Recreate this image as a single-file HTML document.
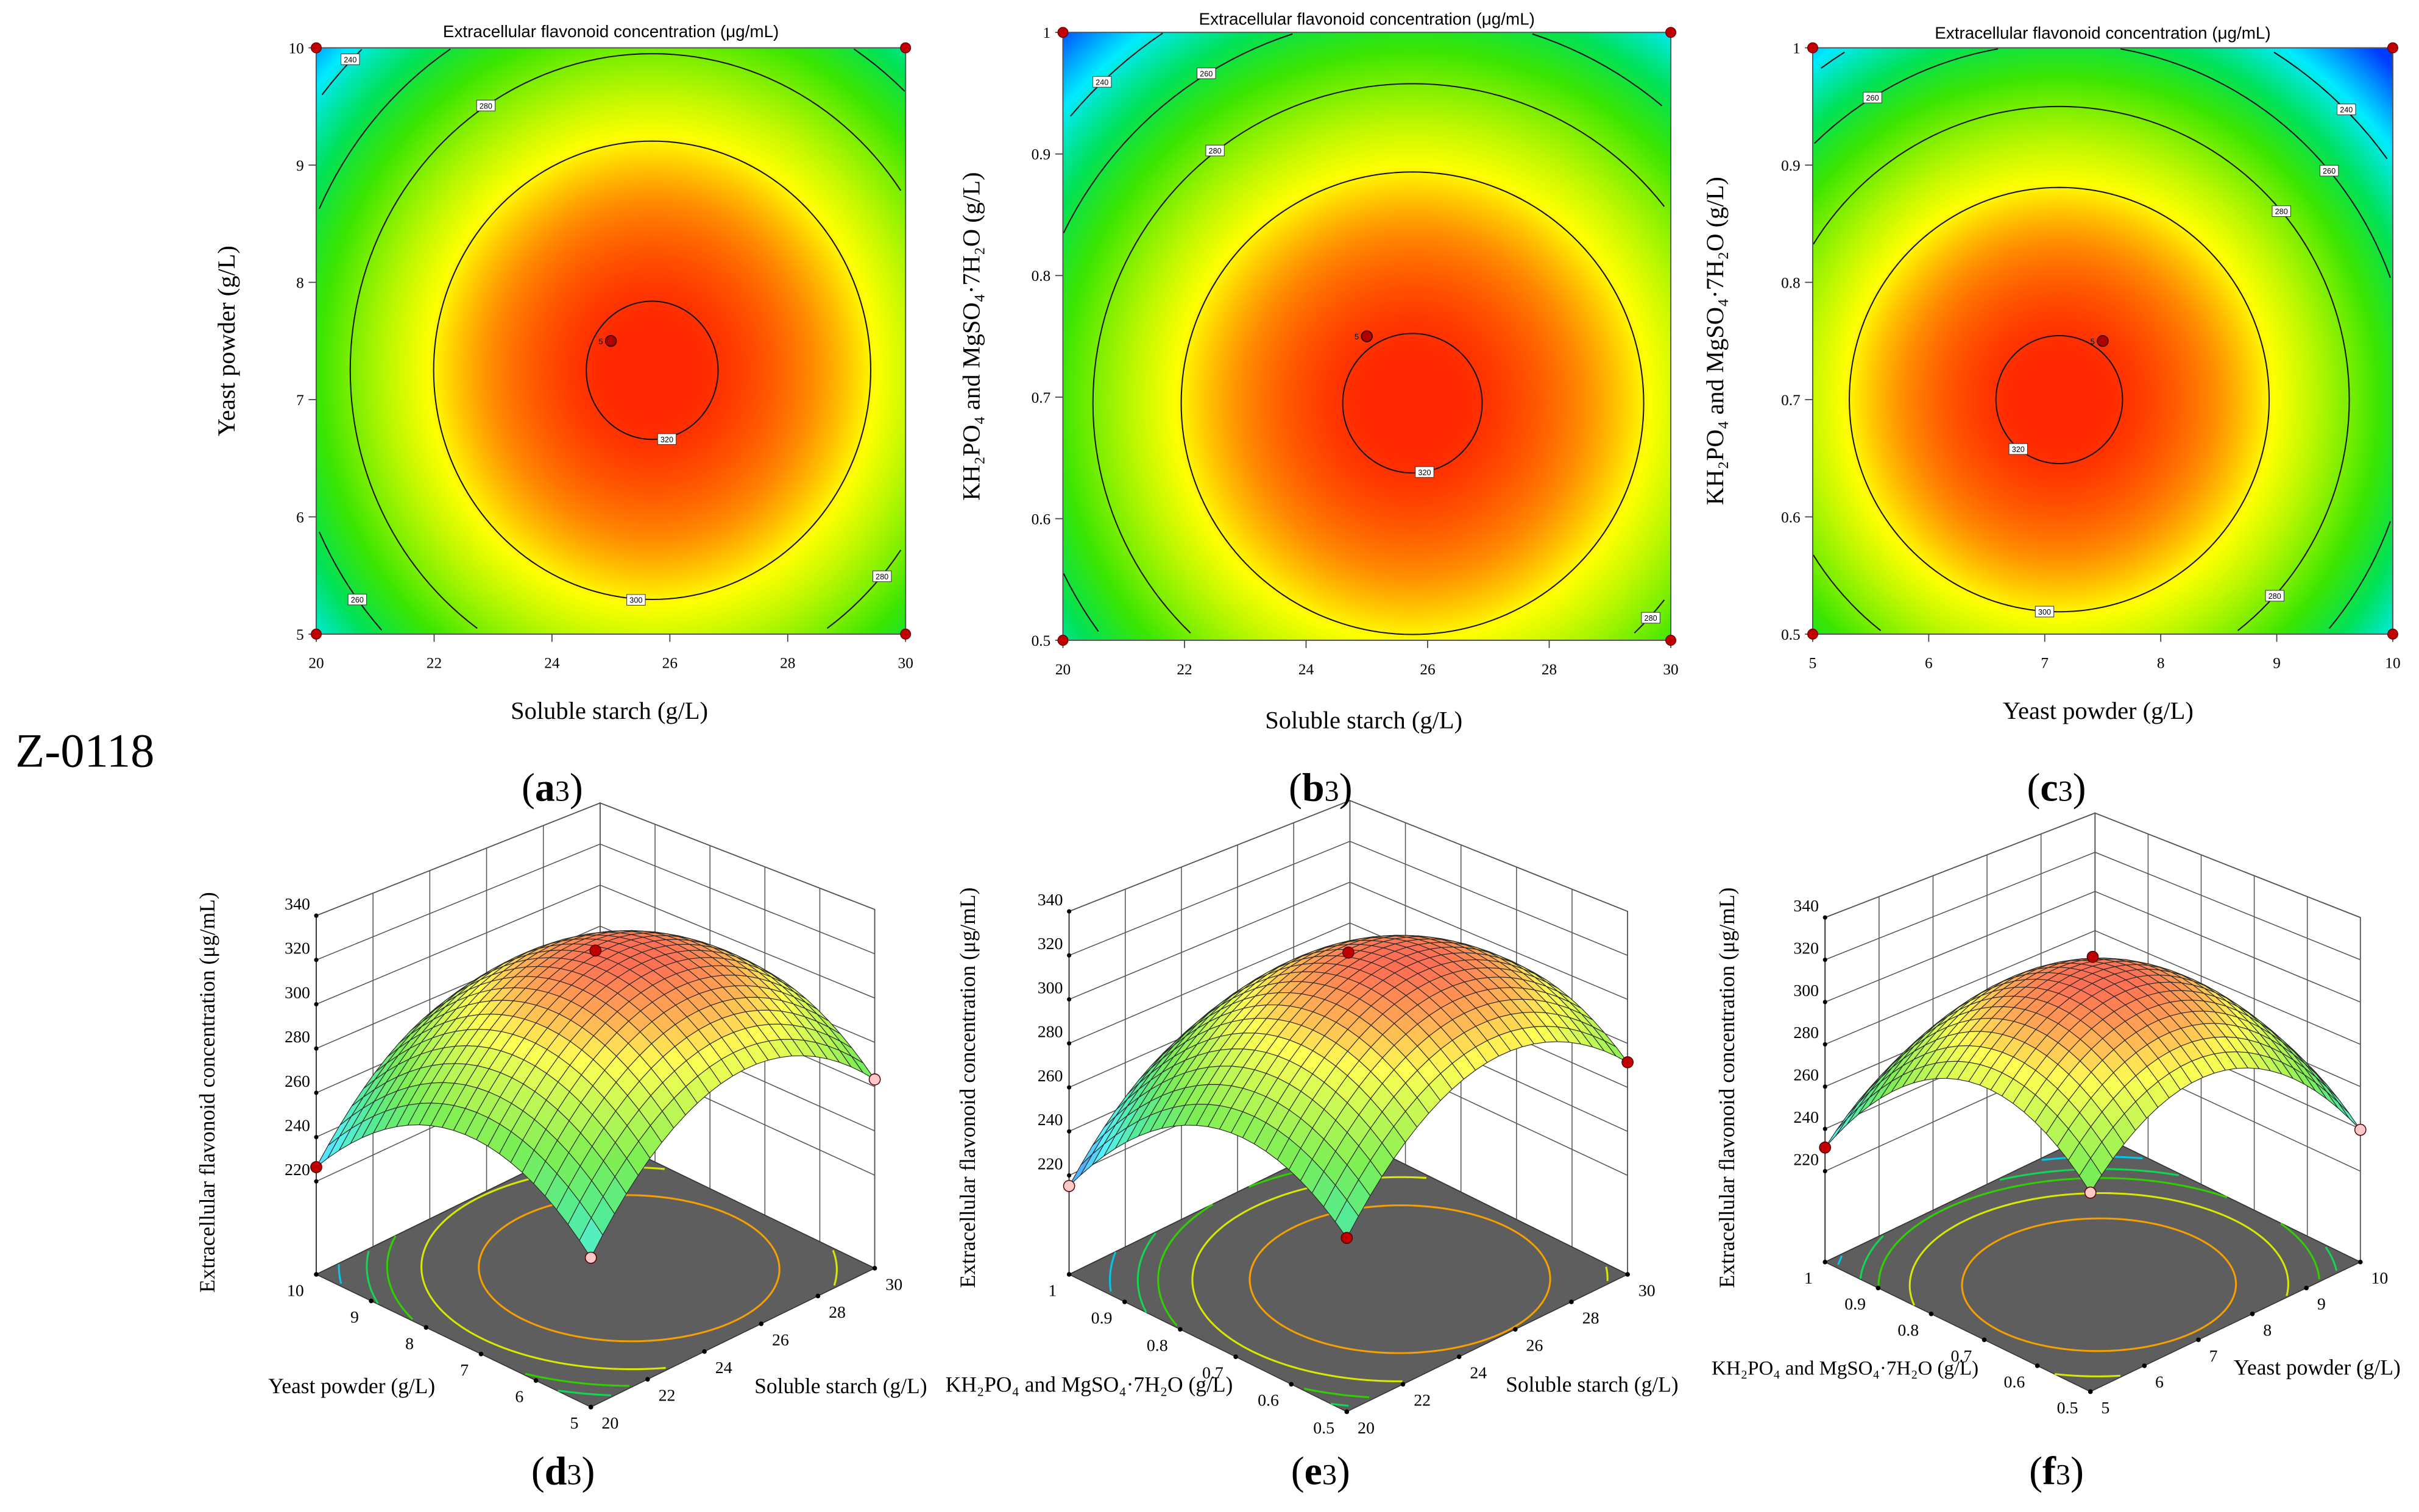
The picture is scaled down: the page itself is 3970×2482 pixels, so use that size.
<!DOCTYPE html>
<html><head><meta charset="utf-8">
<style>
html,body{margin:0;padding:0;background:#fff;}
#wrap{position:relative;width:3970px;height:2482px;background:#fff;overflow:hidden;}
canvas{position:absolute;}
svg{position:absolute;left:0;top:0;}
text{font-family:"Liberation Serif",serif;}
.sans{font-family:"Liberation Sans",sans-serif;}
</style></head>
<body>
<div id="wrap">
<canvas id="cvA"></canvas>
<canvas id="cvB"></canvas>
<canvas id="cvC"></canvas>
<svg id="sv" width="3970" height="2482" viewBox="0 0 1568 980" preserveAspectRatio="none">
<g id="layer"></g>
<text x="10" y="497" font-size="31">Z-0118</text>
<text class="sans" x="396" y="24" font-size="11" text-anchor="middle">Extracellular flavonoid concentration (μg/mL)</text>
<text class="sans" x="886" y="16" font-size="11" text-anchor="middle">Extracellular flavonoid concentration (μg/mL)</text>
<text class="sans" x="1363" y="25" font-size="11" text-anchor="middle">Extracellular flavonoid concentration (μg/mL)</text>
<text x="395" y="466" font-size="16" text-anchor="middle">Soluble starch (g/L)</text>
<text x="884" y="472" font-size="16" text-anchor="middle">Soluble starch (g/L)</text>
<text x="1360" y="466" font-size="16" text-anchor="middle">Yeast powder (g/L)</text>
<text transform="translate(152,221) rotate(-90)" font-size="16" text-anchor="middle">Yeast powder (g/L)</text>
<text transform="translate(635,218) rotate(-90)" font-size="16" text-anchor="middle">KH₂PO₄ and MgSO₄·7H₂O  (g/L)</text>
<text transform="translate(1117,221) rotate(-90)" font-size="16" text-anchor="middle">KH₂PO₄ and MgSO₄·7H₂O  (g/L)</text>
<text x="358" y="519" font-size="26" text-anchor="middle">(<tspan font-weight="bold">a</tspan><tspan font-size="19">3</tspan>)</text>
<text x="856" y="519" font-size="26" text-anchor="middle">(<tspan font-weight="bold">b</tspan><tspan font-size="19">3</tspan>)</text>
<text x="1333" y="519" font-size="26" text-anchor="middle">(<tspan font-weight="bold">c</tspan><tspan font-size="19">3</tspan>)</text>
<text x="365" y="962" font-size="26" text-anchor="middle">(<tspan font-weight="bold">d</tspan><tspan font-size="19">3</tspan>)</text>
<text x="856" y="962" font-size="26" text-anchor="middle">(<tspan font-weight="bold">e</tspan><tspan font-size="19">3</tspan>)</text>
<text x="1333" y="962" font-size="26" text-anchor="middle">(<tspan font-weight="bold">f</tspan><tspan font-size="19">3</tspan>)</text>
<text transform="translate(139,708) rotate(-90)" font-size="14" text-anchor="middle">Extracellular flavonoid concentration (μg/mL)</text>
<text transform="translate(632,705) rotate(-90)" font-size="14" text-anchor="middle">Extracellular flavonoid concentration (μg/mL)</text>
<text transform="translate(1124,705) rotate(-90)" font-size="14" text-anchor="middle">Extracellular flavonoid concentration (μg/mL)</text>
<text x="228" y="903" font-size="14" text-anchor="middle">Yeast powder (g/L)</text>
<text x="545" y="903" font-size="14" text-anchor="middle">Soluble starch (g/L)</text>
<text x="706" y="902" font-size="14" text-anchor="middle">KH₂PO₄ and MgSO₄·7H₂O  (g/L)</text>
<text x="1032" y="902" font-size="14" text-anchor="middle">Soluble starch (g/L)</text>
<text x="1196" y="891" font-size="13" text-anchor="middle">KH₂PO₄ and MgSO₄·7H₂O  (g/L)</text>
<text x="1502" y="891" font-size="14" text-anchor="middle">Yeast powder (g/L)</text>
</svg>
</div>
<script>
// ---- data (response-surface model per factor pair: a3/d3, b3/e3, c3/f3) ----
const peakValues = [322, 322, 322];
const centerU = [0.14, 0.15, -0.15];
const centerV = [-0.1, -0.22, -0.2];
const curvU = [40, 38, 42];
const curvV = [36, 38, 42];
const cross = [0, 0, 0];
const contourLevels = [240, 260, 280, 300, 320];
const floorLevels = [240, 255, 265, 280, 300];
const xRanges = [[20, 30], [20, 30], [5, 10]];
const yRanges = [[5, 10], [0.5, 1], [0.5, 1]];
const xTicks = [[20, 22, 24, 26, 28, 30], [20, 22, 24, 26, 28, 30], [5, 6, 7, 8, 9, 10]];
const yTicksA = [5, 6, 7, 8, 9, 10];
const yTicksB = [0.5, 0.6, 0.7, 0.8, 0.9, 1];
const yTicksC = [0.5, 0.6, 0.7, 0.8, 0.9, 1];
const zTicks = [220, 240, 260, 280, 300, 320, 340];
const designRedCorners = [[[20, 5], [20, 10], [30, 5], [30, 10]], [[20, 0.5], [20, 1], [30, 0.5], [30, 1]], [[5, 0.5], [5, 1], [10, 0.5], [10, 1]]];
const centerPoints = [[25, 7.5], [25, 0.75], [7.5, 0.75]];

const floorColors = ['#00c8e8', '#10d850', '#30d000', '#d8e800', '#f5a000'];
const NS = 'http://www.w3.org/2000/svg';
const layer = document.getElementById('layer');
const SX = 3970 / 1568, SY = 2482 / 980;
function el(tag, attrs, parent) {
  const e = document.createElementNS(NS, tag);
  for (const k in attrs) e.setAttribute(k, attrs[k]);
  (parent || layer).appendChild(e);
  return e;
}
function fval(i, u, v) {
  const du = u - centerU[i], dv = v - centerV[i];
  return peakValues[i] - curvU[i] * du * du - curvV[i] * dv * dv + cross[i] * du * du * dv * dv;
}
const stops = [[212, [0, 60, 255]], [236, [0, 235, 255]], [255, [0, 225, 90]], [271, [60, 230, 0]], [287, [170, 245, 0]], [299, [255, 255, 0]], [310, [255, 140, 0]], [321, [255, 40, 0]]];
function cmap(z) {
  if (z <= stops[0][0]) return stops[0][1];
  for (let k = 1; k < stops.length; k++) {
    if (z <= stops[k][0]) {
      const t = (z - stops[k - 1][0]) / (stops[k][0] - stops[k - 1][0]);
      const a = stops[k - 1][1], b = stops[k][1];
      return [0, 1, 2].map(c => Math.round(a[c] + (b[c] - a[c]) * t));
    }
  }
  return stops[stops.length - 1][1];
}
function rgb(c) { return 'rgb(' + c[0] + ',' + c[1] + ',' + c[2] + ')'; }
function contourRuns(i, level) {
  const runs = []; let cur = [];
  for (let d = 0; d <= 360; d += 2) {
    const th = d * Math.PI / 180, cx = Math.cos(th), cy = Math.sin(th);
    let r = 0, found = false;
    while (r < 2.4) {
      const r2 = r + 0.01;
      if (fval(i, centerU[i] + cx * r2, centerV[i] + cy * r2) < level) {
        let lo = r, hi = r2;
        for (let k = 0; k < 12; k++) { const m = (lo + hi) / 2; if (fval(i, centerU[i] + cx * m, centerV[i] + cy * m) < level) hi = m; else lo = m; }
        r = (lo + hi) / 2; found = true; break;
      }
      r = r2;
    }
    const u = centerU[i] + cx * r, v = centerV[i] + cy * r;
    if (found && Math.abs(u) <= 1 && Math.abs(v) <= 1) cur.push([u, v]);
    else { if (cur.length > 1) runs.push(cur); cur = []; }
  }
  if (cur.length > 1) runs.push(cur);
  if (runs.length > 1) {
    const f = runs[0], l = runs[runs.length - 1];
    if (Math.hypot(f[0][0] - l[l.length - 1][0], f[0][1] - l[l.length - 1][1]) < 0.15) { runs[0] = l.concat(f); runs.pop(); }
  }
  return runs;
}
function pointAt(i, level, deg) {
  const th = deg * Math.PI / 180, cx = Math.cos(th), cy = Math.sin(th);
  for (let r = 0; r < 2.4; r += 0.005) {
    if (fval(i, centerU[i] + cx * r, centerV[i] + cy * r) < level) return [centerU[i] + cx * r, centerV[i] + cy * r];
  }
  return null;
}

// ---------- 2D contour plots ----------
const boxes = [{x0: 205, x1: 587, y0: 31, y1: 411, cv: 'cvA', yt: yTicksA, dec: 0},
               {x0: 689, x1: 1083, y0: 21, y1: 415, cv: 'cvB', yt: yTicksB, dec: 1},
               {x0: 1175, x1: 1551, y0: 31, y1: 411, cv: 'cvC', yt: yTicksC, dec: 1}];
const labelSpots = [[[240, 134], [240, 226], [260, 122], [260, 218], [260, 40], [280, 122], [280, 318], [300, 266], [320, 282]],
                    [[240, 134], [240, 45], [260, 122], [260, 220], [260, 40], [280, 128], [280, 318], [300, 268], [320, 280]],
                    [[240, 134], [240, 45], [260, 122], [260, 222], [260, 40], [280, 40], [280, 318], [300, 266], [320, 230]]];
boxes.forEach((b, i) => {
  const g = el('g', {});
  
  
  const cv = document.getElementById(b.cv);
  const W = Math.round((b.x1 - b.x0) * SX), H = Math.round((b.y1 - b.y0) * SY);
  cv.width = W; cv.height = H;
  cv.style.left = (b.x0 * SX) + 'px'; cv.style.top = (b.y0 * SY) + 'px';
  cv.style.width = W + 'px'; cv.style.height = H + 'px';
  const ctx = cv.getContext('2d'); const img = ctx.createImageData(W, H);
  for (let py = 0; py < H; py++) for (let px = 0; px < W; px++) {
    const u = px / (W - 1) * 2 - 1, v = 1 - py / (H - 1) * 2;
    const c = cmap(fval(i, u, v)); const o = (py * W + px) * 4;
    img.data[o] = c[0]; img.data[o + 1] = c[1]; img.data[o + 2] = c[2]; img.data[o + 3] = 255;
  }
  ctx.putImageData(img, 0, 0);
  const X = u => b.x0 + (u + 1) / 2 * (b.x1 - b.x0);
  const Y = v => b.y1 - (v + 1) / 2 * (b.y1 - b.y0);
  contourLevels.forEach(L => {
    contourRuns(i, L).forEach(run => {
      const p = el('polyline', {points: run.map(q => X(q[0]).toFixed(2) + ',' + Y(q[1]).toFixed(2)).join(' '), fill: 'none', stroke: '#111', 'stroke-width': 0.8}, g);
      
      
    });
  });
  labelSpots[i].forEach(s => {
    const q = pointAt(i, s[0], s[1]);
    if (!q || Math.abs(q[0]) > 0.97 || Math.abs(q[1]) > 0.97) return;
    const r = el('rect', {x: X(q[0]) - 6, y: Y(q[1]) - 3.5, width: 12, height: 7, fill: '#fff', stroke: '#333', 'stroke-width': 0.4}, g);
    
    
    const t = el('text', {x: X(q[0]), y: Y(q[1]) + 2, 'font-size': 5, 'text-anchor': 'middle', class: 'sans'}, g);
    
    
    t.textContent = s[0];
  });
  const fr = el('rect', {x: b.x0, y: b.y0, width: b.x1 - b.x0, height: b.y1 - b.y0, fill: 'none', stroke: '#555', 'stroke-width': 0.8}, g);
  
  
  const xr = xRanges[i], yr = yRanges[i];
  const xu = x => (x - xr[0]) / (xr[1] - xr[0]) * 2 - 1, yv = y => (y - yr[0]) / (yr[1] - yr[0]) * 2 - 1;
  xTicks[i].forEach(tv => {
    const x = X(xu(tv));
    const tk = el('line', {x1: x, x2: x, y1: b.y1, y2: b.y1 + 5, stroke: '#444', 'stroke-width': 0.7}, g);
    
    
    const t = el('text', {x: x, y: b.y1 + 22, 'font-size': 10, 'text-anchor': 'middle'}, g);
    
    
    t.textContent = tv;
  });
  b.yt.forEach(tv => {
    const y = Y(yv(tv));
    const tk = el('line', {x1: b.x0 - 5, x2: b.x0, y1: y, y2: y, stroke: '#444', 'stroke-width': 0.7}, g);
    
    
    const t = el('text', {x: b.x0 - 8, y: y + 3.5, 'font-size': 10, 'text-anchor': 'end'}, g);
    
    
    t.textContent = (tv === 1 ? '1' : tv.toFixed(b.dec));
  });
  designRedCorners[i].forEach(pt => {
    const c = el('circle', {cx: X(xu(pt[0])), cy: Y(yv(pt[1])), r: 3.3, fill: '#c00000', stroke: '#600', 'stroke-width': 0.5}, g);
    
    
  });
  const cp = centerPoints[i];
  const cc = el('circle', {cx: X(xu(cp[0])), cy: Y(yv(cp[1])), r: 3.5, fill: '#b00000', stroke: '#300', 'stroke-width': 0.7}, g);
  
  
  const ct = el('text', {x: X(xu(cp[0])) - 8, y: Y(yv(cp[1])) + 2, 'font-size': 5, class: 'sans'}, g);
  
  
  ct.textContent = '5';
});

// ---------- 3D surface plots ----------
const views = [{F: [383, 912], R: [567, 822], L: [205, 826], zf: 178, kz: 1.54, pt: xTicks[0], qt: yTicksA, dots: ['#c00000', '#c00000', '#ffc8c8', '#ffc8c8']},
               {F: [873, 915], R: [1055, 826], L: [693, 826], zf: 175, kz: 1.53, pt: xTicks[1], qt: yTicksB, dots: ['#ffc8c8', '#c00000', '#c00000', '#c00000']},
               {F: [1355, 902], R: [1530, 818], L: [1183, 818], zf: 177, kz: 1.47, pt: xTicks[2], qt: yTicksC, dots: ['#c00000', '#c00000', '#ffc8c8', '#ffc8c8']}];
views.forEach((V, i) => {
  const g = el('g', {});
  
  
  const P = (p, q, z) => {
    const k = V.kz * (1 - 0.068 * (p + q));
    return [V.F[0] + p * (V.R[0] - V.F[0]) + q * (V.L[0] - V.F[0]),
            V.F[1] + p * (V.R[1] - V.F[1]) + q * (V.L[1] - V.F[1]) - (z - V.zf) * k];
  };
  const s = a => a[0].toFixed(2) + ',' + a[1].toFixed(2);
  const ztop = 340;
  const w1 = el('polygon', {points: [P(0, 1, V.zf), P(1, 1, V.zf), P(1, 1, ztop), P(0, 1, ztop)].map(s).join(' '), fill: '#fff', stroke: '#444', 'stroke-width': 0.7}, g);
  
  
  const w2 = el('polygon', {points: [P(1, 1, V.zf), P(1, 0, V.zf), P(1, 0, ztop), P(1, 1, ztop)].map(s).join(' '), fill: '#fff', stroke: '#444', 'stroke-width': 0.7}, g);
  
  
  zTicks.forEach(z => {
    const gl = el('polyline', {points: [P(0, 1, z), P(1, 1, z), P(1, 0, z)].map(s).join(' '), fill: 'none', stroke: '#555', 'stroke-width': 0.6}, g);
    
    
  });
  const xr = xRanges[i], yr = yRanges[i];
  V.pt.forEach(tv => {
    const p = (tv - xr[0]) / (xr[1] - xr[0]);
    const a = P(p, 1, V.zf), c = P(p, 1, ztop);
    const gl = el('line', {x1: a[0], y1: a[1], x2: c[0], y2: c[1], stroke: '#555', 'stroke-width': 0.6}, g);
    
    
  });
  V.qt.forEach(tv => {
    const q = (tv - yr[0]) / (yr[1] - yr[0]);
    const a = P(1, q, V.zf), c = P(1, q, ztop);
    const gl = el('line', {x1: a[0], y1: a[1], x2: c[0], y2: c[1], stroke: '#555', 'stroke-width': 0.6}, g);
    
    
  });
  {
    const a = P(0, 1, V.zf), c = P(0, 1, ztop);
    const e1 = el('line', {x1: a[0], y1: a[1], x2: c[0], y2: c[1], stroke: '#333', 'stroke-width': 0.7}, g);
    
    
  }
  const fl = el('polygon', {points: [P(0, 0, V.zf), P(1, 0, V.zf), P(1, 1, V.zf), P(0, 1, V.zf)].map(s).join(' '), fill: '#5e5e5e', stroke: '#333', 'stroke-width': 0.6}, g);
  
  
  floorLevels.forEach((Lv, k) => {
    contourRuns(i, Lv).forEach(run => {
      const pl = el('polyline', {points: run.map(q => s(P((q[0] + 1) / 2, (q[1] + 1) / 2, V.zf))).join(' '), fill: 'none', stroke: floorColors[k], 'stroke-width': 1.2}, g);
      
      
    });
  });
  const N = 24, quads = [];
  for (let a = 0; a < N; a++) for (let c = 0; c < N; c++) quads.push([a, c]);
  quads.sort((m, n) => (n[0] + n[1]) - (m[0] + m[1]));
  const Z = (p, q) => fval(i, 2 * p - 1, 2 * q - 1);
  quads.forEach(([a, c]) => {
    const p0 = a / N, p1 = (a + 1) / N, q0 = c / N, q1 = (c + 1) / N;
    const zs = [Z(p0, q0), Z(p1, q0), Z(p1, q1), Z(p0, q1)];
    const zm = (zs[0] + zs[1] + zs[2] + zs[3]) / 4;
    let col = cmap(zm); col = col.map(v => Math.round(v + (255 - v) * 0.33));
    const poly = el('polygon', {points: [P(p0, q0, zs[0]), P(p1, q0, zs[1]), P(p1, q1, zs[2]), P(p0, q1, zs[3])].map(s).join(' '), fill: rgb(col), stroke: '#2a2a2a', 'stroke-width': 0.45, 'stroke-linejoin': 'round'}, g);
    
    
  });
  zTicks.forEach(z => {
    const pt = P(0, 1, z);
    const d = el('circle', {cx: pt[0], cy: pt[1], r: 1.4, fill: '#000'}, g);
    
    
    const t = el('text', {x: pt[0] - 4, y: pt[1] - 4, 'font-size': 11, 'text-anchor': 'end'}, g);
    
    
    t.textContent = z;
  });
  V.pt.forEach(tv => {
    const pt = P((tv - xr[0]) / (xr[1] - xr[0]), 0, V.zf);
    const d = el('circle', {cx: pt[0], cy: pt[1], r: 1.5, fill: '#000'}, g);
    
    
    const t = el('text', {x: pt[0] + 7, y: pt[1] + 14, 'font-size': 11}, g);
    
    
    t.textContent = tv;
  });
  V.qt.forEach(tv => {
    const pt = P(0, (tv - yr[0]) / (yr[1] - yr[0]), V.zf);
    const d = el('circle', {cx: pt[0], cy: pt[1], r: 1.5, fill: '#000'}, g);
    
    
    const t = el('text', {x: pt[0] - 8, y: pt[1] + 14, 'font-size': 11, 'text-anchor': 'end'}, g);
    
    
    t.textContent = (tv === 1 ? '1' : tv);
  });
  const dp = [P(0, 1, Z(0, 1)), P(0.5, 0.5, Z(0.5, 0.5) + 2), P(1, 0, Z(1, 0)), P(0, 0, Z(0, 0))];
  dp.forEach((pt, k) => {
    const d = el('circle', {cx: pt[0], cy: pt[1], r: 3.6, fill: V.dots[k], stroke: '#500', 'stroke-width': 0.6}, g);
    
    
  });
});
</script>
</body></html>
